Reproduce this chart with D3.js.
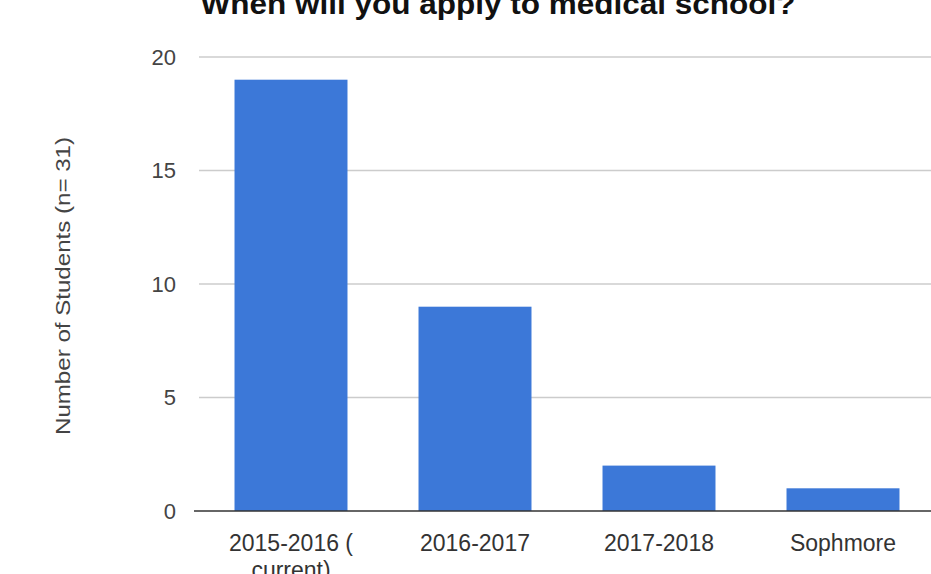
<!DOCTYPE html>
<html><head><meta charset="utf-8">
<script src="https://cdn.jsdelivr.net/npm/d3@7/dist/d3.min.js"></script>
<style>body{margin:0;background:#fff;}svg{display:block;font-family:"Liberation Sans",Arial,sans-serif;}</style>
</head><body>
<svg id="c" width="931" height="574"></svg>
<script>
const categories = ["2015-2016 ( current)", "2016-2017", "2017-2018", "Sophmore"];
const categoryLines = [["2015-2016 (", "current)"], ["2016-2017"], ["2017-2018"], ["Sophmore"]];
const values = [19, 9, 2, 1];
const yTicks = [0, 5, 10, 15, 20];
const title = "When will you apply to medical school?";
const yTitle = "Number of Students (n= 31)";

(function(){
const svg = d3.select("#c");
const pl = 199, pr = 935, pt = 57, pb = 511;

const x = d3.scaleBand().domain(categories).range([pl, pr]).paddingInner(0.386).paddingOuter(0.193);
const y = d3.scaleLinear().domain([0, 20]).range([pb, pt]);

svg.append("g").selectAll("line").data(yTicks.filter(d => d > 0)).join("line")
  .attr("x1", pl).attr("x2", 931)
  .attr("y1", d => y(d)).attr("y2", d => y(d))
  .attr("stroke", "#cccccc").attr("stroke-width", 1.3);

svg.append("g").selectAll("text").data(yTicks).join("text")
  .attr("x", 176).attr("y", d => y(d)).attr("dy", "0.36em")
  .attr("text-anchor", "end").attr("font-size", 22).attr("fill", "#444")
  .text(d => d);

svg.append("g").selectAll("rect").data(values).join("rect")
  .attr("x", (d, i) => x(categories[i])).attr("width", x.bandwidth())
  .attr("y", d => y(d)).attr("height", d => y(0) - y(d))
  .attr("fill", "#3c78d8");

svg.append("line").attr("x1", pl - 5).attr("x2", 931)
  .attr("y1", y(0)).attr("y2", y(0)).attr("stroke", "#333").attr("stroke-width", 1.5);

const xl = svg.append("g").selectAll("text").data(categories).join("text")
  .attr("x", d => x(d) + x.bandwidth() / 2).attr("y", 551)
  .attr("text-anchor", "middle").attr("font-size", 23).attr("fill", "#333");
xl.each(function(d, i) {
  const t = d3.select(this);
  categoryLines[i].forEach((ln, j) => {
    t.append("tspan").attr("x", x(d) + x.bandwidth() / 2).attr("dy", j === 0 ? 0 : 27).text(ln);
  });
});

svg.append("text").attr("x", 498).attr("y", 14).attr("text-anchor", "middle")
  .attr("font-size", 30).attr("font-weight", "bold").attr("fill", "#111")
  .attr("textLength", 595).attr("lengthAdjust", "spacingAndGlyphs").text(title);

svg.append("text").attr("transform", "translate(70,286) rotate(-90)")
  .attr("text-anchor", "middle").attr("font-size", 20).attr("fill", "#444")
  .attr("textLength", 298).attr("lengthAdjust", "spacingAndGlyphs").text(yTitle);
})();
</script>
</body></html>
